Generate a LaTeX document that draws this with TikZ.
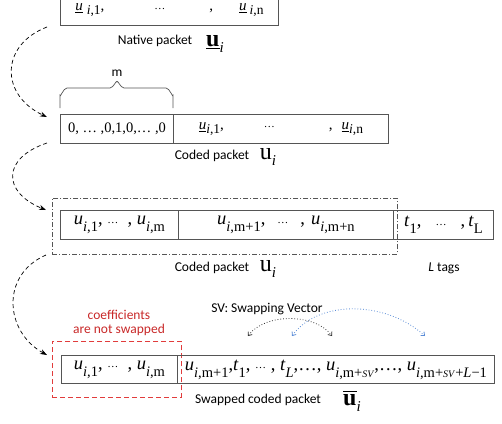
\documentclass[tikz,border=0pt]{standalone}
\usepackage{fontspec}
\setmainfont{Liberation Serif}
\newfontfamily\lab{Carlito}
\usetikzlibrary{arrows.meta}
\definecolor{boxgray}{RGB}{85,85,85}
\definecolor{redbox}{RGB}{225,60,60}
\definecolor{redtxt}{RGB}{200,40,40}
\definecolor{svblue}{RGB}{90,140,215}
\newcommand{\subA}[1]{\raisebox{-4pt}{\fontsize{13.5}{13.5}\selectfont #1}}
\newcommand{\subB}[1]{\raisebox{-7pt}{\fontsize{14.5}{14.5}\selectfont #1}}
\newcommand{\subS}[1]{{\fontsize{10}{10}\selectfont #1}}
\newcommand{\iu}{\textit{u}}
\newcommand{\dotsA}{{\fontsize{11}{11}\selectfont\raisebox{0.3ex}{…}}}
\newcommand{\barbu}{{\fontsize{24}{24}\selectfont\bfseries\setbox0\hbox{u}\rlap{\raisebox{\dimexpr\ht0+2pt\relax}{\rule{\wd0}{1.6pt}}}u}}
\begin{document}
\begin{tikzpicture}[x=1pt,y=-1pt,
  cell/.style={draw=boxgray, line width=0.9pt, inner sep=0pt, anchor=north west},
  lbl/.style={font=\lab\fontsize{13.5}{13.5}\selectfont, inner sep=0pt},
  flow/.style={dashed, dash pattern=on 4pt off 3pt, line width=0.7pt, -{Stealth[length=7pt,width=5pt]}},
  swap/.style={dotted, line width=0.8pt, {Straight Barb[length=3pt,width=5pt]}-{Straight Barb[length=3pt,width=5pt]}},
]
\useasboundingbox (0,0) rectangle (502,423);

% row 1: native packet
\node[cell, minimum width=218pt, minimum height=30pt] (n1) at (60,-5)
  {\fontsize{15}{15}\selectfont\raisebox{-2pt}{\underline{\iu}\hspace{4pt}\subA{\textit{i},1},\hspace{50pt}\dotsA\hspace{44pt},\hspace{26pt}\underline{\iu}\hspace{3pt}\subA{\textit{i},n}}};
\node[lbl] (nl) at (155,41) {Native packet};
\node[inner sep=0pt] (nu) at (215,44) {{\fontsize{24}{24}\selectfont\bfseries\underline{u}}\raisebox{-1.1ex}{\fontsize{15}{15}\selectfont\textit{i}}};

% brace + m
\draw[boxgray, line width=0.7pt] (60,108) -- (60,95) to[out=-90,in=180] (67,88) -- (110,88)
  to[out=0,in=90] (117,82) to[out=90,in=180] (124,88) -- (166,88) to[out=0,in=-90] (173,95) -- (173,108);
\node[lbl] (m) at (117,73) {m};

% row 2: coded packet
\node[cell, minimum width=113pt, minimum height=29pt] (c21) at (60,114)
  {\fontsize{14.5}{14.5}\selectfont 0, … ,0,1,0,… ,0};
\node[cell, minimum width=215pt, minimum height=29pt] (c22) at (173,114)
  {\fontsize{15}{15}\selectfont\raisebox{2pt}{\underline{\iu}\subA{\textit{i},1},\hspace{40pt}\dotsA\hspace{54pt},\hspace{9pt}\underline{\iu}\subA{\textit{i},n}}};
\node[lbl] (cl1) at (212,156) {Coded packet};
\node[inner sep=0pt] (cu1) at (268,157) {{\fontsize{24}{24}\selectfont u}\raisebox{-1.3ex}{\fontsize{15}{15}\selectfont\textit{i}}};

% row 3: coded packet with tags
\node[draw=boxgray, line width=0.6pt, dash pattern=on 5pt off 2pt on 1pt off 2pt,
  minimum width=345pt, minimum height=56pt, inner sep=0pt, anchor=north west] (fr) at (52,198) {};
\node[cell, minimum width=118pt, minimum height=29pt] (c31) at (60,210)
  {\fontsize{18.5}{18.5}\selectfont\raisebox{3pt}{\iu\subB{\textit{i},1},\ \dotsA\ \ ,\ \iu\subB{\textit{i},m}}};
\node[cell, minimum width=215pt, minimum height=29pt] (c32) at (178,210)
  {\fontsize{18.5}{18.5}\selectfont\raisebox{3pt}{\iu\subB{\textit{i},m+1},\hspace{12pt}\dotsA\hspace{12pt},\hspace{6pt}\iu\subB{\textit{i},m+n}}};
\node[cell, minimum width=100pt, minimum height=29pt] (c33) at (393,210)
  {\fontsize{18.5}{18.5}\selectfont\raisebox{3pt}{\textit{t}\subB{1},\hspace{14pt}\dotsA\hspace{14pt},\,\textit{t}\subB{L}}};
\node[lbl] (cl2) at (212,268) {Coded packet};
\node[inner sep=0pt] (cu2) at (268,269) {{\fontsize{24}{24}\selectfont u}\raisebox{-1.3ex}{\fontsize{15}{15}\selectfont\textit{i}}};
\node[lbl] (lt) at (444,268) {\textit{L} tags};

% row 4: swapped coded packet
\node[draw=redbox, line width=0.9pt, dash pattern=on 5pt off 3pt,
  minimum width=129pt, minimum height=56pt, inner sep=0pt, anchor=north west] (rf) at (52,341) {};
\node[lbl, text=redtxt, align=center] (coef) at (119,323) {coefficients\\[1pt]are not swapped};
\node[cell, minimum width=116pt, minimum height=28pt] (c41) at (61,355)
  {\fontsize{18.5}{18.5}\selectfont\raisebox{3pt}{\iu\subB{\textit{i},1},\ \dotsA\ \ ,\ \iu\subB{\textit{i},m}}};
\node[cell, minimum width=317pt, minimum height=28pt] (c42) at (177,355)
  {\fontsize{18.5}{18.5}\selectfont\raisebox{3pt}{\iu\subB{\textit{i},m+1},\textit{t}\subB{1}, \dotsA\ , \textit{t}\subB{\textit{L}},…, \iu\subB{\textit{i},m+\subS{\textit{SV}}},…, \iu\subB{\textit{i},m+\subS{\textit{SV}}+\textit{L}−1}}};
\node[lbl] (sl) at (258,400) {Swapped coded packet};
\node[inner sep=0pt] (su) at (352,401) {\barbu\raisebox{-1.3ex}{\fontsize{15}{15}\selectfont\textit{i}}};
\node[lbl] (sv) at (267,309) {SV: Swapping Vector};

% swap arrows
\coordinate (b1) at (248,336);
\coordinate (b2) at (332,336);
\coordinate (g1) at (292,336);
\coordinate (g2) at (425,336);
\draw[swap, black!80] (b1) .. controls (265,313) and (315,313) .. (b2);
\draw[swap, svblue] (g1) .. controls (318,300) and (385,300) .. (g2);

% flow arrows
\coordinate (a1s) at (47,27);
\coordinate (a1e) at (47,117);
\coordinate (a2s) at (47,143);
\coordinate (a2e) at (46,210);
\coordinate (a3s) at (46,255);
\coordinate (a3e) at (47,355);
\draw[flow] (a1s) .. controls (0,45) and (0,95) .. (a1e);
\draw[flow] (a2s) .. controls (2,158) and (2,192) .. (a2e);
\draw[flow] (a3s) .. controls (0,275) and (5,332) .. (a3e);
\end{tikzpicture}
\end{document}
